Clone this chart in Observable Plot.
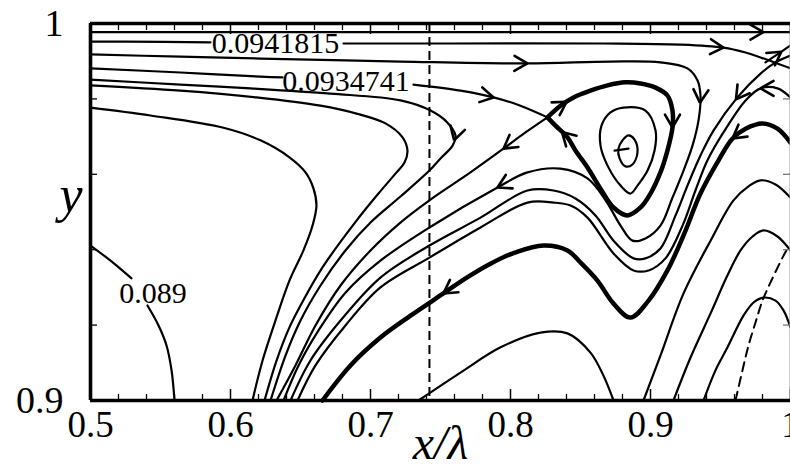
<!DOCTYPE html>
<html><head><meta charset="utf-8">
<script src="https://cdn.jsdelivr.net/npm/d3@7"></script>
<script src="https://cdn.jsdelivr.net/npm/@observablehq/plot@0.6"></script>
<style>html,body{margin:0;padding:0;background:#fff;overflow:hidden}</style>
</head><body><div id="chart"></div>
<script>
// ---- axis values ----
const xMajor = [0.5, 0.6, 0.7, 0.8, 0.9, 1.0];
const xMinor = [0.52,0.54,0.56,0.58,0.62,0.64,0.66,0.68,0.72,0.74,0.76,0.78,0.82,0.84,0.86,0.88,0.92,0.94,0.96,0.98];
const yLabels = [0.9, 1.0];
const yMinor = [0.92, 0.94, 0.96, 0.98];
const dashedX = [0.7421];

// ---- streamlines (x/λ, y), in flow order ----
const lineTop = [[0.5,0.9977],[1.0,0.9977]];
const line0941815Left = [[0.5,0.9952],[0.525,0.9952],[0.5857,0.995]];
const line0941815Right = [[0.6807,0.9947],[0.7571,0.9947],[0.8664,0.9947],[0.9214,0.9944],[0.9521,0.9936],[0.9679,0.9923],[0.9786,0.9910],[0.9907,0.9894],[1.0,0.9881]];
const line0934741Left = [[0.5,0.9881],[0.5643,0.9870],[0.6214,0.9859],[0.6371,0.9857]];
const line0934741Right = [[0.7307,0.9838],[0.7643,0.9822],[0.7879,0.9804],[0.8071,0.9782],[0.8264,0.9751]];
const lineW1 = [[0.5,0.9918],[0.5643,0.9912],[0.6214,0.9907],[0.7214,0.9899],[0.8121,0.9894],[0.8714,0.9899],[0.9071,0.9897],[0.9264,0.9881],[0.9336,0.9849],[0.9357,0.9809],[0.9343,0.9743],[0.93,0.9676],[0.9236,0.9610],[0.9157,0.9538],[0.9071,0.9464],[0.8964,0.9430],[0.8871,0.9424],[0.8786,0.9464],[0.8679,0.9531],[0.855,0.9589],[0.8357,0.9615],[0.8121,0.9605],[0.7907,0.9565],[0.7421,0.9459],[0.7071,0.9371],[0.6821,0.9286],[0.6629,0.9186],[0.6486,0.9093],[0.6379,0.9]];
const lineW2 = [[1.0,0.9915],[0.9893,0.9897],[0.9786,0.9867],[0.9621,0.9804],[0.945,0.9716],[0.9357,0.9650],[0.9264,0.9570],[0.9179,0.9491],[0.9071,0.9403],[0.8964,0.9377],[0.8879,0.9377],[0.8736,0.9424],[0.8607,0.9491],[0.8464,0.9536],[0.8307,0.9557],[0.8121,0.9557],[0.7786,0.9485],[0.7421,0.9411],[0.7071,0.9326],[0.6786,0.9212],[0.6571,0.9106],[0.6429,0.9]];
const lineW3 = [[1.0,0.9804],[0.9907,0.9828],[0.9786,0.9828],[0.9679,0.9796],[0.9521,0.9711],[0.9407,0.9637],[0.9321,0.9557],[0.9229,0.9464],[0.9107,0.9377],[0.8986,0.9345],[0.8879,0.9345],[0.8736,0.9390],[0.855,0.9485],[0.8429,0.9517],[0.8307,0.9525],[0.8121,0.9525],[0.7786,0.9459],[0.7421,0.9379],[0.7071,0.9300],[0.6821,0.9199],[0.6607,0.9093],[0.6479,0.9]];
const lineCorner = [[0.9821,0.9897],[0.9907,0.9918],[1.0,0.9942]];
const lineT2 = [[0.8264,0.9751],[0.8107,0.9711],[0.795,0.9668],[0.7714,0.9605],[0.7421,0.9531],[0.7214,0.9472],[0.7,0.9398],[0.6786,0.9305],[0.6607,0.9199],[0.6464,0.9093],[0.6329,0.9]];
const lineU455 = [[0.5,0.9851],[0.5643,0.9838],[0.6143,0.9828],[0.6714,0.9814],[0.7214,0.9796],[0.7429,0.9769],[0.755,0.9737],[0.7607,0.9703],[0.7586,0.9676],[0.75,0.9642],[0.7421,0.9610],[0.7214,0.9541],[0.7,0.9472],[0.6821,0.9398],[0.6643,0.9305],[0.65,0.9212],[0.6393,0.9119],[0.6286,0.9]];
const lineU407 = [[0.5,0.9836],[0.5643,0.9822],[0.6186,0.9804],[0.6643,0.9782],[0.69,0.9761],[0.7107,0.9735],[0.7229,0.9698],[0.7264,0.9663],[0.7243,0.9631],[0.7186,0.9605],[0.7057,0.9549],[0.69,0.9477],[0.6657,0.9353],[0.65,0.9252],[0.6421,0.9194],[0.6329,0.9106],[0.6243,0.9]];
const lineU316 = [[0.5,0.9777],[0.5429,0.9756],[0.5943,0.9724],[0.6214,0.9690],[0.6421,0.9645],[0.6536,0.9605],[0.6593,0.9562],[0.6614,0.9517],[0.6586,0.9464],[0.6521,0.9398],[0.6421,0.9318],[0.6321,0.9212],[0.6229,0.9106],[0.6157,0.9]];
const line089Upper = [[0.5,0.9411],[0.5143,0.9371],[0.5293,0.9324]];
const line089Lower = [[0.5407,0.9252],[0.5486,0.9199],[0.5543,0.9146],[0.5579,0.9080],[0.56,0.9]];
const loopSeparatrix = [[0.8264,0.9751],[0.8357,0.9782],[0.845,0.9804],[0.8571,0.9822],[0.8693,0.9836],[0.8821,0.9844],[0.8929,0.9841],[0.9036,0.9830],[0.9121,0.9809],[0.9157,0.9769],[0.9157,0.9724],[0.9121,0.9663],[0.9071,0.9605],[0.9,0.9549],[0.8929,0.9512],[0.8836,0.9491],[0.8736,0.9512],[0.8643,0.9562],[0.855,0.9618],[0.8464,0.9663],[0.8407,0.9698],[0.8321,0.9729],[0.8264,0.9751]];
const loopMiddle = [[0.8807,0.9777],[0.8964,0.9769],[0.9036,0.9716],[0.9029,0.9663],[0.8979,0.9610],[0.8907,0.9570],[0.8857,0.9549],[0.8786,0.9570],[0.8693,0.9623],[0.8643,0.9676],[0.865,0.9729],[0.8714,0.9764]];
const loopCore = [[0.88,0.9690],[0.8843,0.9703],[0.8886,0.9692],[0.8907,0.9658],[0.8871,0.9626],[0.8821,0.9621],[0.8779,0.9642],[0.8771,0.9668]];
const coreTail = [[0.8743,0.9663],[0.8843,0.9668]];
const lineThickWave = [[1.0,0.9684],[0.9907,0.9721],[0.98,0.9735],[0.9679,0.9721],[0.9586,0.9695],[0.9486,0.9637],[0.9357,0.9549],[0.9236,0.9438],[0.9121,0.9345],[0.8986,0.9265],[0.8857,0.9220],[0.8736,0.9257],[0.8621,0.9318],[0.85,0.9366],[0.8407,0.9398],[0.8236,0.9411],[0.8036,0.9393],[0.7857,0.9363],[0.7679,0.9324],[0.7521,0.9284],[0.7286,0.9225],[0.7071,0.9167],[0.6857,0.9093],[0.6657,0.9]];
const archLow = [[0.7343,0.9],[0.7643,0.9074],[0.7929,0.9141],[0.8214,0.9180],[0.8407,0.9178],[0.8571,0.9127],[0.8664,0.9066],[0.8736,0.9]];
const archA1 = [[0.895,0.9],[0.9071,0.9119],[0.9236,0.9284],[0.9429,0.9424],[0.9593,0.9531],[0.97,0.9568],[0.9786,0.9584],[0.9893,0.9573],[1.0,0.9538]];
const archA2 = [[0.9164,0.9],[0.9286,0.9114],[0.9429,0.9231],[0.955,0.9332],[0.9643,0.9398],[0.9729,0.9435],[0.9807,0.9451],[0.9907,0.9435],[1.0,0.9398]];
const archA3 = [[0.9379,0.9],[0.9464,0.9080],[0.955,0.9141],[0.9664,0.9225],[0.9736,0.9260],[0.9807,0.9273],[0.9893,0.9265],[0.995,0.9239],[1.0,0.9194]];
const dashedCurve = [[0.9607,0.9],[0.9657,0.9080],[0.97,0.9146],[0.975,0.9207],[0.98,0.9265],[0.9857,0.9313],[0.9943,0.9379],[0.9986,0.9408]];

// contour labels
const labelText = ["0.0941815", "0.0934741", "0.089"];
const labelX = [0.6321, 0.6825, 0.5446];
const labelY = [0.9947, 0.9846, 0.9284];

// arrow positions: [streamline, x, y]
const arrows = [
  [lineTop, 0.9807, 0.9977],
  [line0941815Right, 0.9521, 0.9936],
  [lineW1, 0.8121, 0.9894],
  [line0934741Right, 0.7879, 0.9804],
  [lineU455, 0.7600, 0.9690],
  [lineT2, 0.795, 0.9668],
  [lineW1, 0.7907, 0.9565],
  [lineThickWave, 0.7521, 0.9284],
  [loopSeparatrix, 0.8400, 0.9793],
  [loopSeparatrix, 0.9157, 0.9724],
  [loopSeparatrix, 0.8357, 0.9708],
  [lineW1, 0.9355, 0.9790],
  [lineW2, 0.9643, 0.9790],
  [lineW3, 0.9786, 0.9828],
  [lineCorner, 0.9929, 0.9928],
  [lineThickWave, 0.9586, 0.9695]
];

// ---- layout ----
const W = 790, H = 469, ML = 90, MR = 0, MT = 23, MB = 69;
const X0 = 0.5, X1 = 1.0, Y0 = 0.9, Y1 = 1.0;
const kx = (W - ML - MR) / (X1 - X0), ky = (H - MT - MB) / (Y1 - Y0);
const sx = x => ML + (x - X0) * kx, sy = y => MT + (Y1 - y) * ky;
const ix = p => X0 + (p - ML) / kx, iy = p => Y1 - (p - MT) / ky;

function rows(list) {
  const out = [];
  list.forEach((pts, i) => pts.forEach(([x, y]) => out.push({id: i, x, y})));
  return out;
}
const thin = rows([lineTop, line0941815Left, line0941815Right, line0934741Left, line0934741Right,
  lineW1, lineW2, lineW3, lineCorner, lineT2, lineU455, lineU407, lineU316, line089Upper, line089Lower,
  archLow, archA1, archA2, archA3, coreTail]);
const thick = rows([loopSeparatrix, lineThickWave]);
const closed = rows([loopMiddle, loopCore]);

function head(pts, px, py, id) {
  const P = pts.map(([x, y]) => [sx(x), sy(y)]);
  const q = [sx(px), sy(py)];
  let best = Infinity, dir = [1, 0], foot = q;
  for (let i = 0; i < P.length - 1; i++) {
    const a = P[i], b = P[i + 1];
    const vx = b[0] - a[0], vy = b[1] - a[1], L2 = vx * vx + vy * vy;
    if (!L2) continue;
    let t = ((q[0] - a[0]) * vx + (q[1] - a[1]) * vy) / L2;
    t = Math.max(0, Math.min(1, t));
    const fx = a[0] + t * vx, fy = a[1] + t * vy;
    const d = (fx - q[0]) ** 2 + (fy - q[1]) ** 2;
    if (d < best) { best = d; const L = Math.sqrt(L2); dir = [vx / L, vy / L]; foot = [fx, fy]; }
  }
  const [ux, uy] = dir, nx = -uy, ny = ux, back = 13, side = 7.5;
  const w1 = [foot[0] - back * ux + side * nx, foot[1] - back * uy + side * ny];
  const w2 = [foot[0] - back * ux - side * nx, foot[1] - back * uy - side * ny];
  return [w1, foot, w2].map(([a, b]) => ({id, x: ix(a), y: iy(b)}));
}
const heads = arrows.flatMap(([pts, x, y], i) => head(pts, x, y, i));

const font = "Liberation Serif, Times New Roman, serif";
const fmt = d => d === 1 ? "1" : d.toFixed(1);

const plot = Plot.plot({
  width: W, height: H, marginLeft: ML, marginRight: MR, marginTop: MT, marginBottom: MB,
  x: {domain: [X0, X1], axis: null},
  y: {domain: [Y0, Y1], axis: null},
  style: {background: "#fff", overflow: "visible"},
  marks: [
    // dashed vertical line
    Plot.ruleX(dashedX, {x: d => d, stroke: "#000", strokeWidth: 2, strokeDasharray: "9,5"}),
    Plot.line(dashedCurve, {x: d => d[0], y: d => d[1], curve: "catmull-rom", stroke: "#000", strokeWidth: 2, strokeDasharray: "9,6"}),
    // streamlines
    Plot.line(thin, {x: "x", y: "y", z: "id", curve: "catmull-rom", stroke: "#000", strokeWidth: 2.2}),
    Plot.line(closed, {x: "x", y: "y", z: "id", curve: "catmull-rom-closed", stroke: "#000", strokeWidth: 2.2}),
    Plot.line(thick, {x: "x", y: "y", z: "id", curve: "catmull-rom", stroke: "#000", strokeWidth: 4.5}),
    Plot.line(heads, {x: "x", y: "y", z: "id", stroke: "#000", strokeWidth: 2.6, strokeLinejoin: "miter"}),
    // contour labels
    Plot.text(labelText, {x: (d, i) => labelX[i], y: (d, i) => labelY[i], text: d => d,
      fontSize: 30, fontFamily: font, fill: "#000"}),
    // frame
    Plot.ruleX([X1], {stroke: "#999", strokeWidth: 2}),
    Plot.ruleX([X0], {stroke: "#000", strokeWidth: 3.6}),
    Plot.ruleY([Y0], {stroke: "#000", strokeWidth: 3.6}),
    Plot.ruleY([Y1], {stroke: "#000", strokeWidth: 3.4}),
    // ticks (pointing inward)
    Plot.ruleX(xMinor, {x: d => d, y1: Y0, y2: Y0 + 6 / ky, stroke: "#000", strokeWidth: 1.3}),
    Plot.ruleX(xMajor, {x: d => d, y1: Y0, y2: Y0 + 11 / ky, stroke: "#000", strokeWidth: 1.5}),
    Plot.ruleX(xMinor, {x: d => d, y1: Y1, y2: Y1 - 7 / ky, stroke: "#000", strokeWidth: 1.3}),
    Plot.ruleX(xMajor, {x: d => d, y1: Y1, y2: Y1 - 11 / ky, stroke: "#000", strokeWidth: 1.5}),
    Plot.ruleY(yMinor, {y: d => d, x1: X0, x2: X0 + 7 / kx, stroke: "#000", strokeWidth: 1.3}),
    Plot.ruleY(yMinor, {y: d => d, x1: X1, x2: X1 - 7 / kx, stroke: "#777", strokeWidth: 1.3}),
    // tick labels
    Plot.text(xMajor, {x: d => d, frameAnchor: "bottom", lineAnchor: "middle", dy: 25, text: fmt, fontSize: 37, fontFamily: font, fill: "#000"}),
    Plot.text(yLabels, {y: d => d, frameAnchor: "left", lineAnchor: "middle", dx: -27, textAnchor: "end", text: fmt, fontSize: 38, fontFamily: font, fill: "#000"}),
    // axis titles
    Plot.text(["x/λ"], {frameAnchor: "bottom", lineAnchor: "middle", dy: 43, text: d => d, fontSize: 48, fontStyle: "italic", fontFamily: font, fill: "#000"}),
    Plot.text(["y"], {frameAnchor: "left", lineAnchor: "middle", dx: -31, dy: -17, text: d => d, fontSize: 52, fontStyle: "italic", fontFamily: font, fill: "#000"})
  ]
});
document.getElementById("chart").appendChild(plot);
</script>
</body></html>
